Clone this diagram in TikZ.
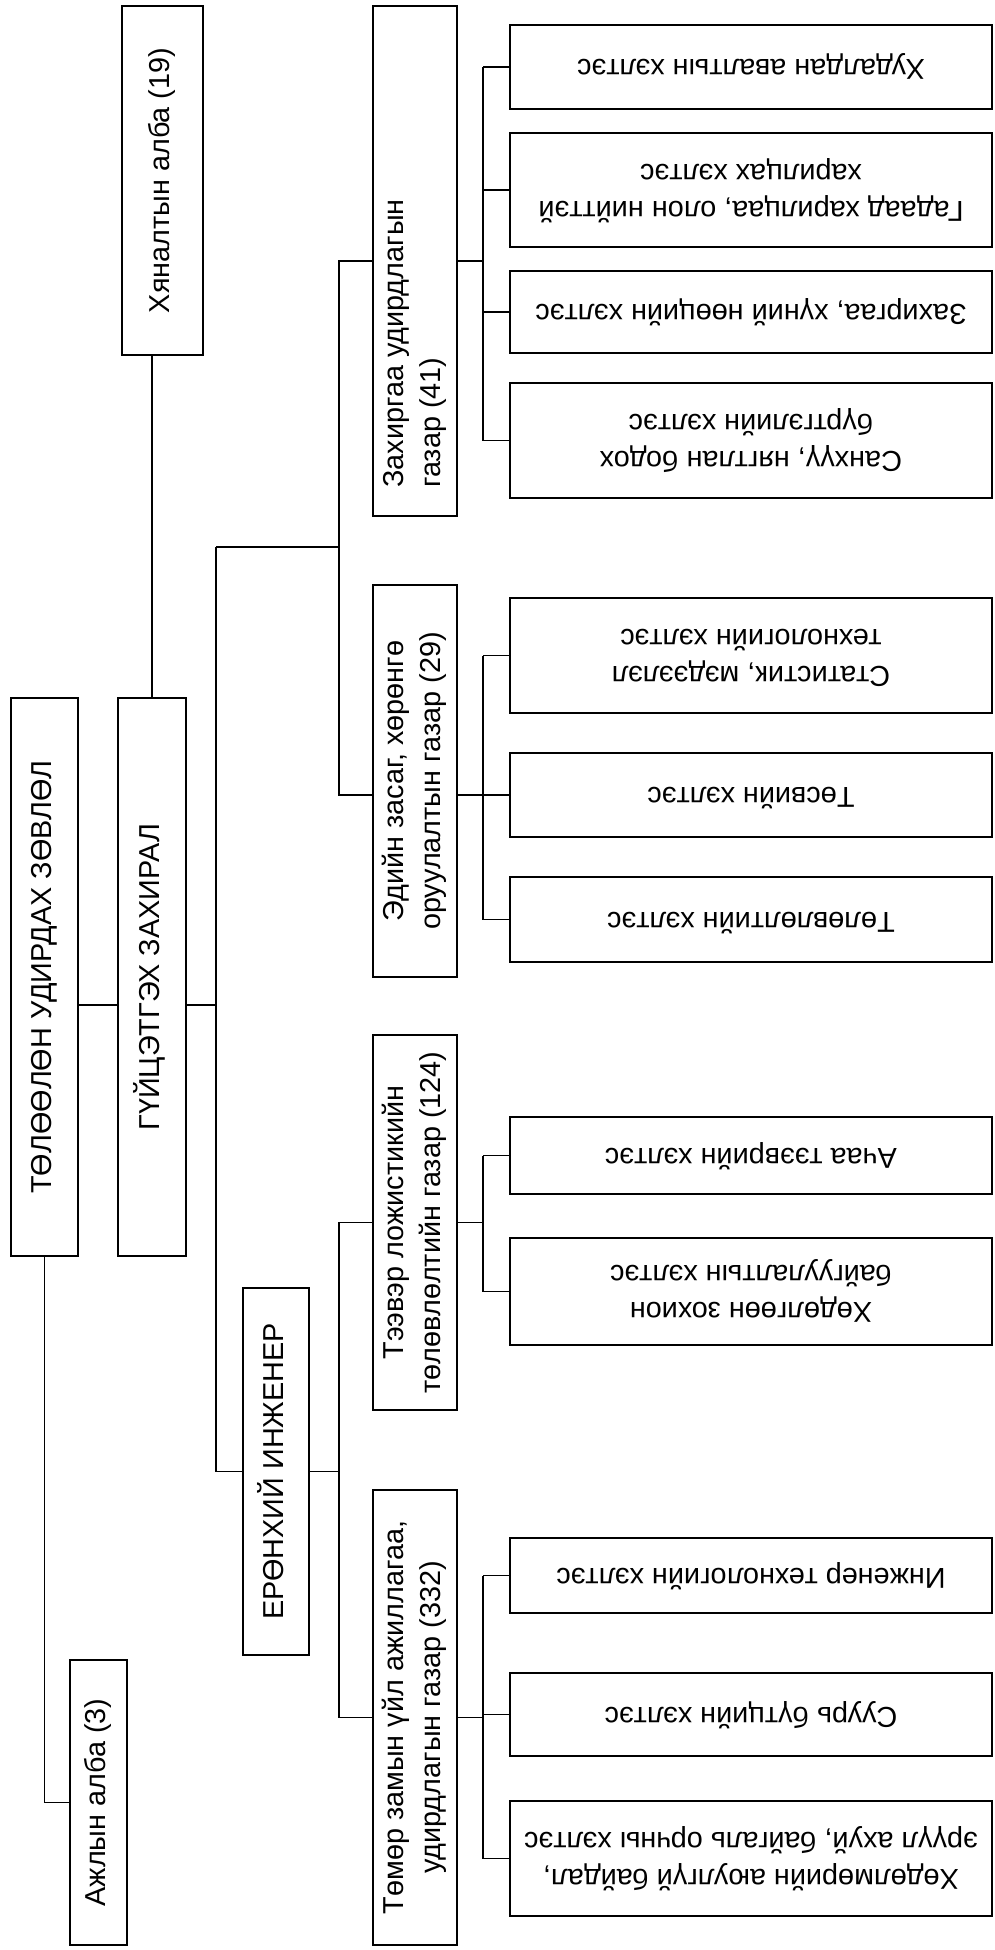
\documentclass[tikz,border=0pt]{standalone}
\usepackage{fontspec}
\setmainfont{Liberation Sans}
\usetikzlibrary{fit}

\tikzset{
  unit/.style={draw, line width=1.2pt, inner sep=0pt, font=\fontsize{16.4}{21}\selectfont},
  link/.style={line width=1pt},
}
\newcommand{\vlbl}[1]{\raisebox{-\height}{\rotatebox{90}{\begin{tabular}{@{}c@{}}#1\end{tabular}}}}
\newcommand{\hlbl}[1]{\raisebox{-\height}{\rotatebox{180}{\begin{tabular}{@{}c@{}}#1\end{tabular}}}}

\begin{document}
\begin{tikzpicture}[x=0.02cm, y=-0.02cm]
  \useasboundingbox (0,0) rectangle (994,1950);
  % board and director
  \node[unit, fit={(11,698) (78,1256)}] (tol) {\vlbl{ТӨЛӨӨЛӨН УДИРДАХ ЗӨВЛӨЛ}};
  \node[unit, fit={(118,698) (186,1256)}] (gui) {\vlbl{ГҮЙЦЭТГЭХ ЗАХИРАЛ}};
  \node[unit, fit={(122,6) (203,355)}] (hyan) {\vlbl{Хяналтын алба (19)}};
  \node[unit, fit={(70,1660) (127,1945)}] (ajil) {\vlbl{Ажлын алба (3)}};
  \node[unit, fit={(243,1288) (309,1655)}] (ereng) {\vlbl{ЕРӨНХИЙ ИНЖЕНЕР}};
  % departments
  \node[unit, fit={(373,6) (457,516)}] (zah)
    {\raisebox{-\height}{\rotatebox{90}{\begin{tabular}{@{}l@{}}Захиргаа удирдлагын\\газар (41)\end{tabular}\hspace*{3.3cm}}}};
  \node[unit, fit={(373,585) (457,977)}] (ed) {\vlbl{Эдийн засаг, хөрөнгө\\оруулалтын газар (29)}};
  \node[unit, fit={(373,1035) (457,1410)}] (tee) {\vlbl{Тээвэр ложистикийн\\төлөвлөлтийн газар (124)}};
  \node[unit, fit={(373,1490) (457,1945)}] (tem) {\vlbl{Төмөр замын үйл ажиллагаа,\\удирдлагын газар (332)}};
  % sections
  \node[unit, fit={(510,25) (992,109)}] (l1) {\hlbl{Худалдан авалтын хэлтэс}};
  \node[unit, fit={(510,133) (992,247)}] (l2) {\hlbl{Гадаад харилцаа, олон нийттэй\\харилцах хэлтэс}};
  \node[unit, fit={(510,271) (992,353)}] (l3) {\hlbl{Захиргаа, хүний нөөцийн хэлтэс}};
  \node[unit, fit={(510,383) (992,498)}] (l4) {\hlbl{Санхүү, нягтлан бодох\\бүртгэлийн хэлтэс}};
  \node[unit, fit={(510,598) (992,713)}] (e1) {\hlbl{Статистик, мэдээлэл\\технологийн хэлтэс}};
  \node[unit, fit={(510,753) (992,837)}] (e2) {\hlbl{Төсвийн хэлтэс}};
  \node[unit, fit={(510,877) (992,962)}] (e3) {\hlbl{Төлөвлөлтийн хэлтэс}};
  \node[unit, fit={(510,1117) (992,1194)}] (t1) {\hlbl{Ачаа тээврийн хэлтэс}};
  \node[unit, fit={(510,1238) (992,1345)}] (t2) {\hlbl{Хөдөлгөөн зохион\\байгуулалтын хэлтэс}};
  \node[unit, fit={(510,1538) (992,1613)}] (m1) {\hlbl{Инженер технологийн хэлтэс}};
  \node[unit, fit={(510,1673) (992,1756)}] (m2) {\hlbl{Суурь бүтцийн хэлтэс}};
  \node[unit, fit={(510,1801) (992,1916)}] (m3) {\hlbl{Хөдөлмөрийн аюулгүй байдал,\\эрүүл ахуй, байгаль орчны хэлтэс}};

  \coordinate (lvl) at (0,1005);
  \coordinate (hub) at (216,547);
  \coordinate (sp) at (339,547);
  \coordinate (lx) at (483,0);

  % connectors
  \draw[link] (tol.south) |- (ajil.west);
  \draw[link] (tol.east |- lvl) -- (gui.west |- lvl);
  \draw[link] (gui.north) -- (gui.north |- hyan.south);
  \draw[link] (gui.east |- lvl) -- (hub |- lvl);
  \draw[link] (hub) |- (ereng.west);
  \draw[link] (hub) -- (sp);
  \draw[link] (zah.west) -| (sp |- e2.west) -- (ed.west |- e2.west);
  \draw[link] (ereng.east) -- (sp |- ereng.east);
  \draw[link] (tee.west) -| (sp |- tem.west) -- (tem.west);
  \draw[link] (zah.east) -- (zah.east -| lx);
  \draw[link] (ed.east |- e2.west) -- (lx |- e2.west);
  \draw[link] (tee.east) -- (tee.east -| lx);
  \draw[link] (tem.east) -- (tem.east -| lx);
  \foreach \a/\z in {l1/l4, e1/e3, t1/t2, m1/m3}
    \draw[link] (\a.west -| lx) -- (\z.west -| lx);
  \foreach \n in {l1,l2,l3,l4,e1,e2,e3,t1,t2,m1,m2,m3}
    \draw[link] (\n.west -| lx) -- (\n.west);
\end{tikzpicture}
\end{document}
